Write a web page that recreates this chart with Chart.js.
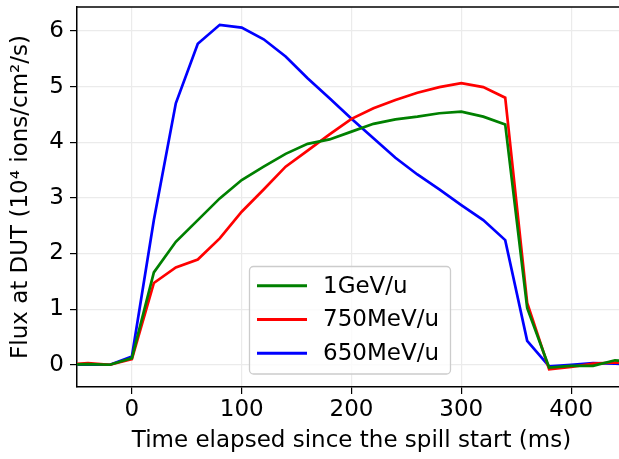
<!DOCTYPE html>
<html><head><meta charset="utf-8">
<script src="https://cdn.jsdelivr.net/npm/chart.js@4.4.1/dist/chart.umd.min.js"></script>
<style>html,body{margin:0;padding:0;overflow:hidden;background:#fff}#wrap{width:626px;height:459px}</style>
</head><body><div id="wrap"><canvas id="c" width="626" height="459"></canvas></div>
<script>
const times = [-60,-40,-20,0,20,40,60,80,100,120,140,160,180,200,220,240,260,280,300,320,340,360,380,400,420,440,460];
const flux1GeV = [0,0.01,0,0.12,1.66,2.21,2.60,2.99,3.32,3.56,3.79,3.97,4.05,4.19,4.33,4.41,4.46,4.52,4.55,4.46,4.32,1.02,-0.05,-0.02,-0.02,0.08,0.05];
const flux750MeV = [0,0.03,0,0.10,1.47,1.75,1.89,2.27,2.75,3.15,3.56,3.85,4.14,4.42,4.61,4.76,4.89,4.99,5.06,4.99,4.80,1.11,-0.08,-0.04,0.02,0.04,0.03];
const flux650MeV = [0,0,0,0.15,2.6,4.70,5.77,6.11,6.06,5.85,5.54,5.15,4.79,4.42,4.07,3.72,3.42,3.15,2.87,2.60,2.24,0.43,-0.03,0.0,0.03,0.02,0.0];
const seriesLabels = ['1GeV/u','750MeV/u','650MeV/u'];
const xTicks = [0,100,200,300,400];
const yTicks = [0,1,2,3,4,5,6];

const FONT = "'DejaVu Sans', sans-serif";
const FS = 23;
const colors = ['#008000','#ff0000','#0000ff'];
const series = [flux1GeV, flux750MeV, flux650MeV];

const frame = {
  id:'frame',
  afterDatasetsDraw(chart){
    const {ctx, chartArea:a} = chart;
    ctx.save();
    ctx.strokeStyle='#000'; ctx.lineWidth=1.5;
    ctx.beginPath(); ctx.moveTo(a.left-0.75, a.top); ctx.lineTo(a.right, a.top); ctx.stroke();
    ctx.restore();
  },
  afterDraw(chart){
    const ctx = chart.ctx;
    const bx=249.5, by=266.5, bw=201, bh=107.5, r=4;
    ctx.save();
    ctx.fillStyle='rgba(255,255,255,0.8)';
    ctx.strokeStyle='#cccccc'; ctx.lineWidth=1.3;
    ctx.beginPath();
    ctx.moveTo(bx+r,by); ctx.lineTo(bx+bw-r,by); ctx.arcTo(bx+bw,by,bx+bw,by+r,r);
    ctx.lineTo(bx+bw,by+bh-r); ctx.arcTo(bx+bw,by+bh,bx+bw-r,by+bh,r);
    ctx.lineTo(bx+r,by+bh); ctx.arcTo(bx,by+bh,bx,by+bh-r,r);
    ctx.lineTo(bx,by+r); ctx.arcTo(bx,by,bx+r,by,r); ctx.closePath();
    ctx.fill(); ctx.stroke();
    ctx.font = FS+'px '+FONT; ctx.textBaseline='middle'; ctx.fillStyle='#000';
    chart.data.datasets.forEach((ds,i)=>{
      const yy = 285.7 + i*33.8;
      ctx.strokeStyle = ds.borderColor; ctx.lineWidth=3;
      ctx.beginPath(); ctx.moveTo(257,yy); ctx.lineTo(307,yy); ctx.stroke();
      ctx.fillText(ds.label, 323, yy+1);
    });
    ctx.restore();
  }
};

new Chart(document.getElementById('c'), {
  type:'line',
  data:{
    datasets: series.map((s,i)=>({
      label: seriesLabels[i],
      data: times.map((t,j)=>({x:t,y:s[j]})),
      borderColor: colors[i], backgroundColor: colors[i],
      borderWidth: 2.7, pointRadius: 0, tension: 0, fill:false
    }))
  },
  options:{
    responsive:false, animation:false,
    layout:{padding:{left:0,top:7,right:0,bottom:0}},
    plugins:{legend:{display:false}, tooltip:{enabled:false}},
    scales:{
      x:{
        type:'linear', min:-50, max:450,
        afterBuildTicks(s){ s.ticks = xTicks.map(v=>({value:v})); },
        afterFit(s){ s.height = 72; s.paddingLeft = 0; s.paddingRight = 0; },
        grid:{color:'#ebebeb', lineWidth:1.2, tickColor:'#000', tickLength:7},
        border:{color:'#000', width:1.5},
        ticks:{color:'#000', font:{family:FONT,size:FS}, padding:2, maxRotation:0},
        title:{display:true, text:'Time elapsed since the spill start (ms)', color:'#000', font:{family:FONT,size:FS}, padding:{top:0,bottom:4}}
      },
      y:{
        type:'linear', min:-0.4, max:6.43,
        afterBuildTicks(s){ s.ticks = yTicks.map(v=>({value:v})); },
        afterFit(s){ s.width = 77; s.paddingTop = 0; s.paddingBottom = 0; },
        grid:{color:'#ebebeb', lineWidth:1.2, tickColor:'#000', tickLength:7},
        border:{color:'#000', width:1.5},
        ticks:{color:'#000', font:{family:FONT,size:FS}, padding:6},
        title:{display:true, text:'Flux at DUT (10\u2074 ions/cm\u00b2/s)', color:'#000', font:{family:FONT,size:FS}, padding:{top:7,bottom:2}}
      }
    }
  },
  plugins:[frame]
});
</script></body></html>
